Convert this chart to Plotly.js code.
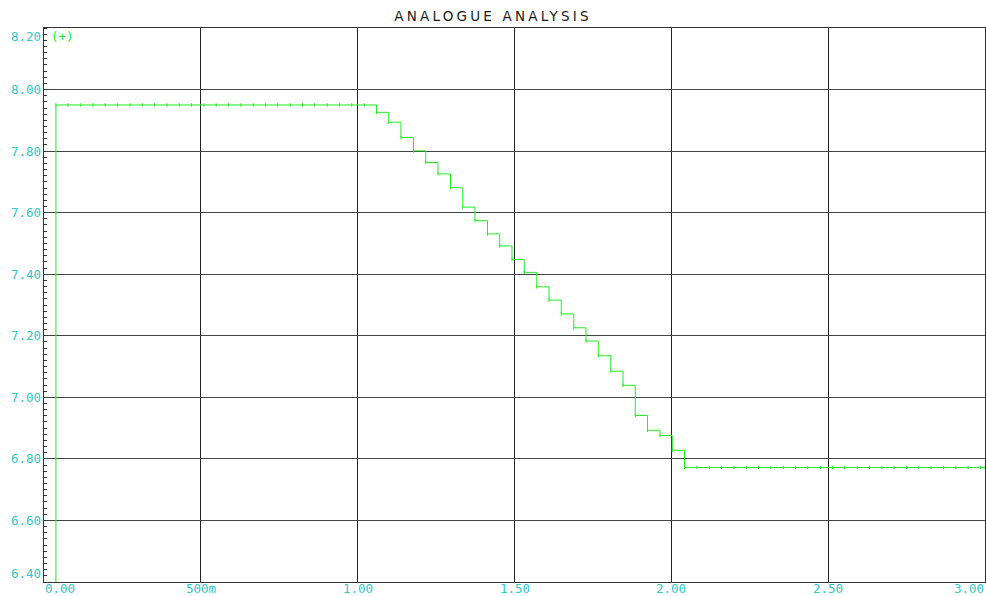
<!DOCTYPE html>
<html>
<head>
<meta charset="utf-8">
<script src="https://cdn.plot.ly/plotly-3.0.1.min.js"></script>
<style>
html,body{margin:0;padding:0;background:#fff;}
#chart{width:986px;height:596px;}
.gtitle{letter-spacing:3.2px;}
</style>
</head>
<body>
<div id="chart"></div>
<script>
// Sample times (s) of the analogue trace
const timeS = [0.000,
  0.038,0.077,0.117,0.156,0.195,0.235,0.274,0.313,0.352,0.392,
  0.431,0.470,0.510,0.549,0.588,0.628,0.667,0.706,0.745,0.785,
  0.824,0.863,0.903,0.942,0.981,1.021,1.060,1.099,1.138,1.178,
  1.217,1.256,1.296,1.335,1.374,1.414,1.453,1.492,1.531,1.571,
  1.610,1.649,1.689,1.728,1.767,1.807,1.846,1.885,1.924,1.964,
  2.003,2.042,2.082,2.121,2.160,2.200,2.239,2.278,2.317,2.357,
  2.396,2.435,2.475,2.514,2.553,2.593,2.632,2.671,2.710,2.750,
  2.789,2.828,2.868,2.907,2.946,2.985,3.000];
// Trace values at each sample
const valueV = [0.000,
  7.950,7.950,7.950,7.950,7.950,7.950,7.950,7.950,7.950,7.950,
  7.950,7.950,7.950,7.950,7.950,7.950,7.950,7.950,7.950,7.950,
  7.950,7.950,7.950,7.950,7.950,7.950,7.926,7.894,7.844,7.801,
  7.763,7.726,7.681,7.618,7.574,7.531,7.492,7.448,7.406,7.359,
  7.316,7.271,7.226,7.183,7.135,7.085,7.039,6.941,6.893,6.876,
  6.828,6.772,6.772,6.772,6.772,6.772,6.772,6.772,6.772,6.772,
  6.772,6.772,6.772,6.772,6.772,6.772,6.772,6.772,6.772,6.772,
  6.772,6.772,6.772,6.772,6.772,6.772,6.772];
const xTickVals = [0, 0.5, 1.0, 1.5, 2.0, 2.5, 3.0];
const xTickText = ['0.00','500m','1.00','1.50','2.00','2.50','3.00'];
const yTickVals = [6.4, 6.6, 6.8, 7.0, 7.2, 7.4, 7.6, 7.8, 8.0, 8.2];
const yTickText = ['6.40','6.60','6.80','7.00','7.20','7.40','7.60','7.80','8.00','8.20'];
const titleText = 'ANALOGUE ANALYSIS';
const traceLabel = '(+)';

const cyan = '#30c8c8';
const green = '#22ee22';
const tickFont = {family: 'DejaVu Sans Mono, monospace', size: 12.5, color: cyan};

const annotations = [];
xTickVals.forEach((v, i) => {
  const last = i === xTickVals.length - 1;
  annotations.push({
    x: v, xref: 'x', y: 0, yref: 'paper',
    text: xTickText[i], showarrow: false, font: tickFont,
    xanchor: i === 0 ? 'left' : (last ? 'right' : 'center'),
    yanchor: 'top', yshift: 2, borderpad: 0
  });
});
yTickVals.forEach((v, i) => {
  const first = i === 0, last = i === yTickVals.length - 1;
  annotations.push({
    x: 0, xref: 'paper', y: v, yref: 'y',
    text: yTickText[i], showarrow: false, font: tickFont,
    xanchor: 'right', xshift: -2, borderpad: 0,
    yanchor: first ? 'bottom' : (last ? 'top' : 'middle')
  });
});
annotations.push({
  x: 0, xref: 'paper', y: 1, yref: 'paper', text: traceLabel,
  showarrow: false, xanchor: 'left', yanchor: 'top', xshift: 6, yshift: 0,
  borderpad: 0,
  font: {family: 'DejaVu Sans Mono, monospace', size: 12.5, color: green}
});

const trace = {
  x: timeS, y: valueV, type: 'scatter', mode: 'lines+markers',
  line: {shape: 'hv', color: green, width: 1},
  marker: {symbol: 'line-ns-open', size: 2.5, line: {color: green, width: 1}},
  hoverinfo: 'skip'
};

const layout = {
  width: 986, height: 596,
  margin: {l: 44, r: 1, t: 28, b: 14, pad: 0},
  paper_bgcolor: '#ffffff', plot_bgcolor: '#ffffff',
  showlegend: false,
  title: {
    text: titleText, x: 0.5, xref: 'container', xanchor: 'center',
    y: 1, yref: 'container', yanchor: 'top', pad: {t: 12},
    font: {family: 'DejaVu Sans, sans-serif', size: 13.5, color: '#1a1a1a'}
  },
  xaxis: {
    range: [0, 3], tickvals: xTickVals, showticklabels: false, ticks: '',
    showgrid: true, gridcolor: '#222', gridwidth: 1,
    showline: true, linecolor: '#333', linewidth: 1, mirror: true,
    zeroline: false, fixedrange: true
  },
  yaxis: {
    range: [6.4, 8.2], tickvals: yTickVals, showticklabels: false, ticks: '',
    showgrid: true, gridcolor: '#444', gridwidth: 1,
    showline: true, linecolor: '#333', linewidth: 1, mirror: true,
    zeroline: false, fixedrange: true,
    minor: {ticks: 'inside', dtick: 0.02, tick0: 6.4, ticklen: 3, tickwidth: 1, tickcolor: '#333', showgrid: false}
  },
  annotations: annotations
};

Plotly.newPlot('chart', [trace], layout, {staticPlot: true, displayModeBar: false});
</script>
</body>
</html>
